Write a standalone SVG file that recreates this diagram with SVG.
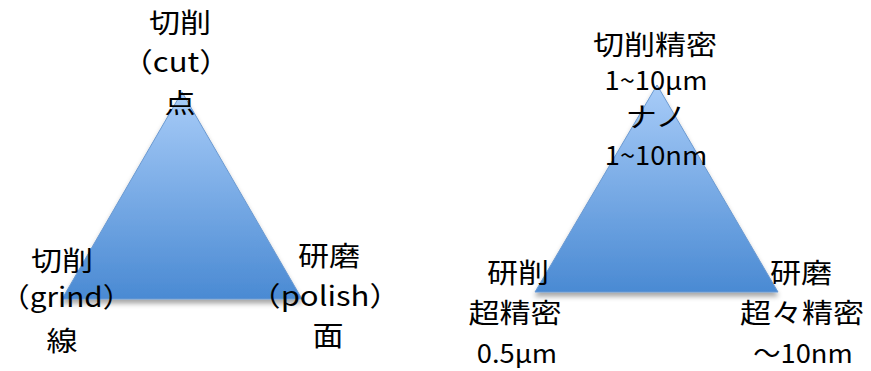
<svg xmlns="http://www.w3.org/2000/svg" width="871" height="371" viewBox="0 0 871 371">
<style>
text{font-family:"Noto Sans CJK JP","Noto Sans",sans-serif;fill:#000;text-anchor:middle}
.j{font-size:27px}
.n{font-size:26px}
.tri{fill:url(#g);stroke:#6b9ad2;stroke-width:1;filter:url(#sh)}
</style>
<defs>
<linearGradient id="g" x1="0" y1="0" x2="0" y2="1">
<stop offset="0" stop-color="#a8ccf8"/>
<stop offset="1" stop-color="#4a8ad3"/>
</linearGradient>
<filter id="sh" x="-10%" y="-10%" width="120%" height="125%">
<feDropShadow dx="0" dy="4" stdDeviation="2.5" flood-color="#000" flood-opacity="0.35"/>
</filter>
</defs>
<g id="connectors"></g>
<g id="left-triangle">
<polygon class="tri" points="182,92 62,299 302,299"/>
</g>
<g id="right-triangle">
<polygon class="tri" points="657,85 535,292 778,292"/>
</g>
<g id="node-cut">
<text class="j" transform="translate(180,33) scale(1.15,1)">切削</text>
<text class="j" transform="translate(176,72) scale(1.15,1)">（cut）</text>
<text class="j" transform="translate(180,113) scale(1.15,1)">点</text>
</g>
<g id="node-grind">
<text class="j" transform="translate(62,271) scale(1.15,1)">切削</text>
<text class="j" style="text-anchor:start" transform="translate(0,307) scale(1.1,1)">（grind）</text>
<text class="j" transform="translate(62,351) scale(1.15,1)">線</text>
</g>
<g id="node-polish">
<text class="j" transform="translate(329,266) scale(1.15,1)">研磨</text>
<text class="j" transform="translate(325,306) scale(1.15,1)">（polish）</text>
<text class="j" transform="translate(328,346) scale(1.15,1)">面</text>
</g>
<g id="node-nano">
<text class="j" transform="translate(655,55) scale(1.15,1)">切削精密</text>
<text class="n" transform="translate(656,90) scale(1.05,1)">1~10μm</text>
<text class="j" transform="translate(656,127) scale(1.15,1)">ナノ</text>
<text class="n" transform="translate(656,165) scale(1.05,1)">1~10nm</text>
</g>
<g id="node-ultra">
<text class="j" transform="translate(518,283) scale(1.15,1)">研削</text>
<text class="j" transform="translate(515,323) scale(1.15,1)">超精密</text>
<text class="n" transform="translate(517,363) scale(1.05,1)">0.5μm</text>
</g>
<g id="node-super">
<text class="j" transform="translate(801,283) scale(1.15,1)">研磨</text>
<text class="j" transform="translate(802,323) scale(1.15,1)">超々精密</text>
<text class="n" transform="translate(803,363) scale(1.05,1)">～10nm</text>
</g>
</svg>
